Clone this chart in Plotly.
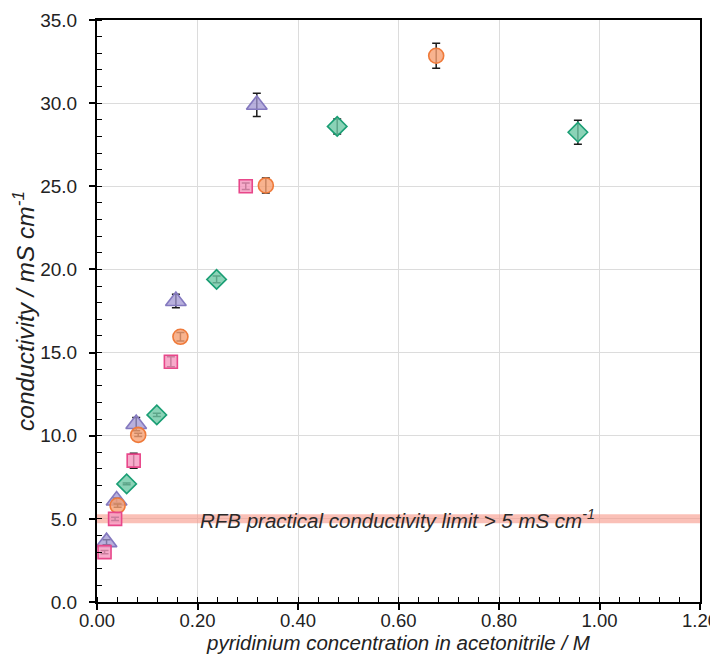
import plotly.graph_objects as go

# Data
tri_x = [0.019, 0.039, 0.078, 0.157, 0.318]
tri_y = [3.6, 6.1, 10.7, 18.1, 29.9]
tri_err = [0.15, 0.15, 0.4, 0.4, 0.7]

circ_x = [0.041, 0.082, 0.166, 0.336, 0.675]
circ_y = [5.8, 10.05, 15.95, 25.05, 32.85]
circ_err = [0.1, 0.1, 0.25, 0.45, 0.75]

sq_x = [0.015, 0.036, 0.073, 0.147, 0.296]
sq_y = [3.0, 5.0, 8.5, 14.45, 25.0]
sq_err = [0.1, 0.1, 0.45, 0.3, 0.2]

dia_x = [0.059, 0.119, 0.238, 0.478, 0.957]
dia_y = [7.1, 11.25, 19.4, 28.6, 28.25]
dia_err = [0.05, 0.1, 0.2, 0.45, 0.72]

limit_x = [0.0, 1.2]
limit_y = [5.0, 5.0]
limit_label = "RFB practical conductivity limit > 5 mS cm<sup>-1</sup>"

x_ticks = [0.0, 0.2, 0.4, 0.6, 0.8, 1.0, 1.2]
y_ticks = [0, 5, 10, 15, 20, 25, 30, 35]

FONT = "Liberation Sans, Arial, sans-serif"

fig = go.Figure()

fig.add_trace(go.Scatter(
    x=limit_x, y=limit_y, mode="lines",
    line=dict(color="rgba(246,150,135,0.6)", width=9),
    hoverinfo="skip", showlegend=False))

def add_series(x, y, err, symbol, size, fill, edge):
    fig.add_trace(go.Scatter(
        x=x, y=y, mode="markers", showlegend=False,
        marker=dict(symbol=symbol, size=size, color=fill,
                    line=dict(color=edge, width=1.6)),
        error_y=dict(type="data", array=err, visible=True,
                     color="#1a1a1a", thickness=1.5, width=4)))

add_series(tri_x, tri_y, tri_err, "triangle-up", 18,
           "rgba(160,150,210,0.75)", "#8479bf")
add_series(circ_x, circ_y, circ_err, "circle", 15,
           "rgba(246,160,115,0.8)", "#ef7a3a")
add_series(sq_x, sq_y, sq_err, "square", 13,
           "rgba(245,150,190,0.8)", "#e8478a")
add_series(dia_x, dia_y, dia_err, "diamond", 15,
           "rgba(110,200,165,0.8)", "#1a9e74")

fig.add_annotation(
    x=0.2, y=5.0, xref="x", yref="y", xanchor="left", yanchor="middle",
    text="<i>" + limit_label + "</i>", showarrow=False,
    font=dict(family=FONT, size=20.5, color="#2a2a2a"))

# page has an 8px body margin: plot area in page coords is x 97..700, y 20..602
fig.update_layout(
    width=718, height=655,
    margin=dict(l=89, r=26, t=12, b=61, autoexpand=False),
    plot_bgcolor="white", paper_bgcolor="white",
    font=dict(family=FONT, size=19, color="#222222"),
)

fig.update_xaxes(
    range=[0, 1.2], tickvals=x_ticks, tickformat=".2f",
    automargin=False, ticklabeloverflow="allow",
    showgrid=True, gridcolor="#dcdcdc", gridwidth=1,
    showline=True, linecolor="black", linewidth=2, mirror=True,
    ticks="outside", ticklen=6, tickwidth=1.5, tickcolor="black",
    ticklabelstandoff=-5,
    minor=dict(dtick=0.04, ticks="inside", ticklen=5, tickwidth=1.2,
               tickcolor="black", showgrid=False),
    zeroline=False,
    tickfont=dict(size=18.5, color="#222222"),
    title=dict(text="<i>pyridinium concentration in acetonitrile / M</i>",
               font=dict(size=20.5), standoff=4),
)
fig.update_yaxes(
    range=[0, 35], tickvals=y_ticks, tickformat=".1f",
    automargin=False, ticklabeloverflow="allow",
    showgrid=True, gridcolor="#dcdcdc", gridwidth=1,
    showline=True, linecolor="black", linewidth=2, mirror=True,
    ticks="outside", ticklen=6, tickwidth=1.5, tickcolor="black",
    ticklabelstandoff=8,
    minor=dict(dtick=1, ticks="inside", ticklen=5, tickwidth=1.2,
               tickcolor="black", showgrid=False),
    zeroline=False,
    tickfont=dict(size=19, color="#222222"),
    title=dict(text="<i>conductivity / mS cm<sup>-1</sup></i>",
               font=dict(size=24.5), standoff=0),
)

fig.write_html("out.html")
